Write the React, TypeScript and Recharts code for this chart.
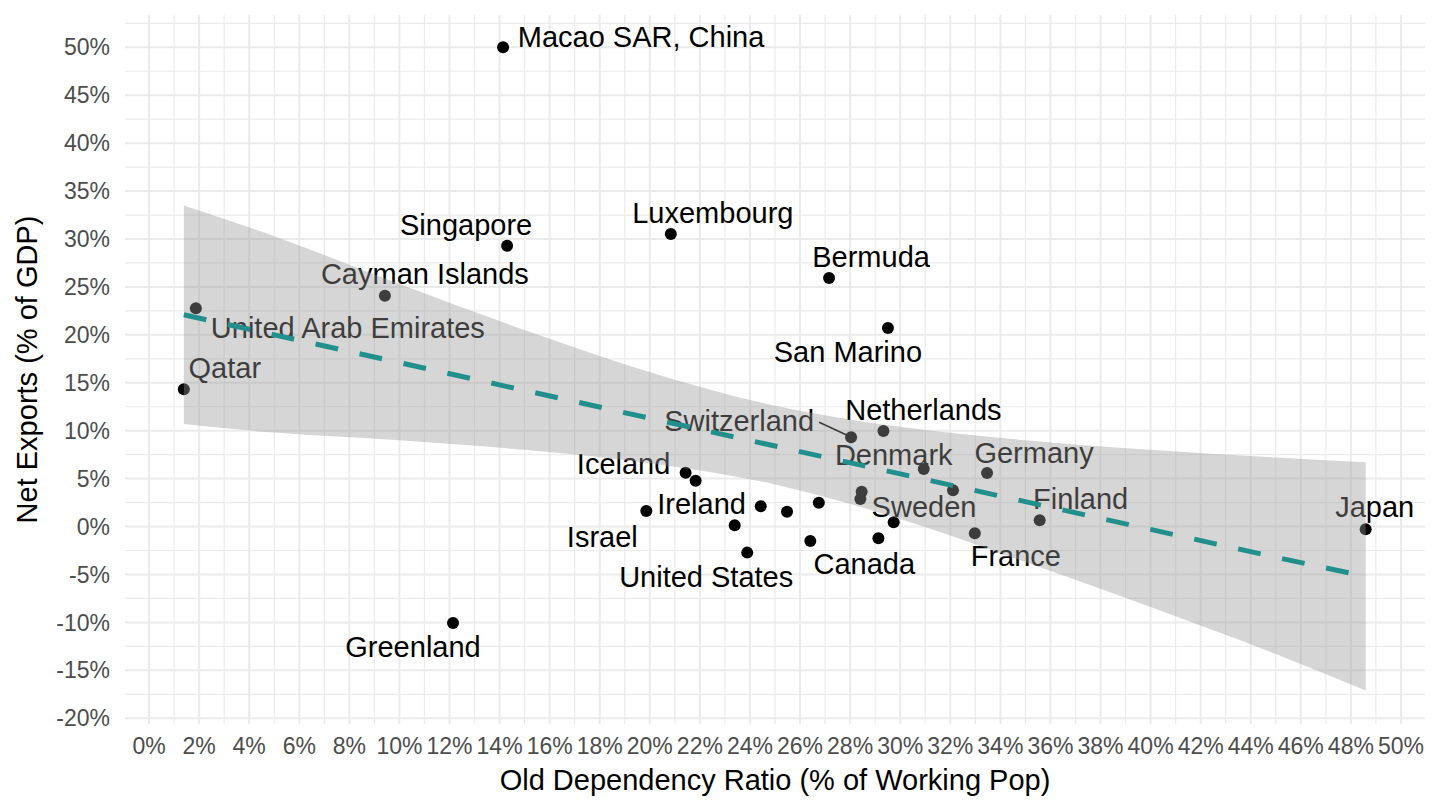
import { ComposedChart, Scatter, Area, Line, XAxis, YAxis, CartesianGrid } from 'recharts'

// one entry per country, null where the chart shows no label
const countries: (string | null)[] = [
  'Macao SAR, China', 'Singapore', 'Luxembourg', 'Bermuda', 'San Marino',
  'Cayman Islands', 'United Arab Emirates', 'Qatar', 'Switzerland', 'Netherlands',
  'Denmark', 'Germany', 'Sweden', 'Iceland', 'Ireland',
  null, null, 'Finland', 'Japan', 'France',
  null, null, 'Canada', null, null,
  null, null, 'United States', 'Israel', 'Greenland',
]
const oldDependency = [
  14.14, 14.3, 20.84, 27.16, 29.51,
  9.42, 1.87, 1.39, 28.04, 29.33,
  30.94, 33.47, 32.11, 21.43, 21.83,
  28.46, 28.41, 35.57, 48.59, 32.98,
  29.74, 29.13, 26.41, 26.75, 25.48,
  24.43, 23.39, 23.89, 19.86, 12.14,
]
const netExports = [
  50.0, 29.3, 30.52, 25.93, 20.72,
  24.09, 22.77, 14.32, 9.32, 9.97,
  6.01, 5.59, 3.79, 5.62, 4.79,
  3.64, 2.88, 0.66, -0.28, -0.7,
  0.45, -1.22, -1.5, 2.49, 1.55,
  2.12, 0.14, -2.72, 1.63, -10.06,
]

// linear fit and its confidence band
const fitX = [1.39, 5, 10, 15, 20, 25, 30, 35, 40, 45, 48.59]
const fitLower = [10.7, 9.8, 9.0, 8.0, 6.6, 4.4, 0.8, -3.7, -8.4, -13.3, -17.1]
const fitUpper = [33.5, 30.3, 25.3, 20.5, 16.1, 12.6, 10.4, 9.0, 8.0, 7.2, 6.7]
const fitValue = [22.1, 20.0, 17.1, 14.2, 11.3, 8.4, 5.5, 2.6, -0.3, -3.2, -5.2]

const xTicks = [0, 2, 4, 6, 8, 10, 12, 14, 16, 18, 20, 22, 24, 26, 28, 30, 32, 34, 36, 38, 40, 42, 44, 46, 48, 50]
const yTicks = [-20, -15, -10, -5, 0, 5, 10, 15, 20, 25, 30, 35, 40, 45, 50]
const xMinor = [1, 3, 5, 7, 9, 11, 13, 15, 17, 19, 21, 23, 25, 27, 29, 31, 33, 35, 37, 39, 41, 43, 45, 47, 49]
const yMinor = [-17.5, -12.5, -7.5, -2.5, 2.5, 7.5, 12.5, 17.5, 22.5, 27.5, 32.5, 37.5, 42.5, 47.5, 52.5]

const points = oldDependency.map((x, i) => ({ x, y: netExports[i], name: countries[i] }))
const band = fitX.map((x, i) => ({ x, lo: fitLower[i], hi: fitUpper[i], fit: fitValue[i] }))

// where each repelled label sits relative to its point (px)
const labelOffset: Record<string, [number, number]> = {
  'Macao SAR, China': [138, -10],
  Singapore: [-41, -21],
  Luxembourg: [42, -21],
  Bermuda: [42, -21],
  'San Marino': [-40, 24],
  'Cayman Islands': [40, -22],
  'United Arab Emirates': [152, 20],
  Qatar: [41, -21],
  Switzerland: [-112, -16],
  Netherlands: [40, -21],
  Denmark: [-30, -14],
  Germany: [47, -20],
  Sweden: [-29, 17],
  Iceland: [-62, -9],
  Ireland: [6, 23],
  Finland: [41, -21],
  Japan: [9, -22],
  France: [41, 23],
  Canada: [54, 23],
  'United States': [-41, 24],
  Israel: [-44, 26],
  Greenland: [-40, 24],
}
const segments: Record<string, [number, number, number, number]> = {
  Switzerland: [-32, -15, -4, -2],
}

const LABEL_FONT = 29
const TICK_FONT = 23

const renderPoint = (props: any) => {
  const { cx, cy, payload } = props
  const name = payload.name
  const off = name ? labelOffset[name] : null
  const seg = name ? segments[name] : null
  return (
    <g>
      <circle cx={cx} cy={cy} r={6} fill="#000" />
      {seg && (
        <line x1={cx + seg[0]} y1={cy + seg[1]} x2={cx + seg[2]} y2={cy + seg[3]} stroke="#000" strokeWidth={1.6} />
      )}
      {off && (
        <text x={cx + off[0]} y={cy + off[1]} textAnchor="middle" dominantBaseline="central" fontSize={LABEL_FONT} fill="#000">
          {name}
        </text>
      )}
    </g>
  )
}

function App() {
  return (
    <div
      style={{
        position: 'absolute',
        left: 0,
        top: 0,
        width: 1440,
        height: 810,
        background: '#fff',
        fontFamily: '"Liberation Sans", Arial, Helvetica, sans-serif',
      }}
    >
      <ComposedChart width={1440} height={810} data={band} margin={{ top: 15, right: 15, bottom: 0, left: 0 }}>
        <CartesianGrid stroke="#EBEBEB" strokeWidth={1.2} horizontalValues={yMinor} verticalValues={xMinor} />
        <CartesianGrid stroke="#EBEBEB" strokeWidth={2} horizontalValues={yTicks} verticalValues={xTicks} />
        <XAxis
          type="number"
          dataKey="x"
          domain={[-0.96, 50.96]}
          allowDataOverflow
          ticks={xTicks}
          interval={0}
          tickFormatter={(v) => `${v}%`}
          axisLine={false}
          tickLine={false}
          tickSize={0}
          tickMargin={14}
          height={86}
          tick={{ fill: '#4D4D4D', fontSize: TICK_FONT }}
          label={{
            value: 'Old Dependency Ratio (% of Working Pop)',
            position: 'insideBottom',
            offset: 20,
            fill: '#000',
            fontSize: LABEL_FONT,
          }}
        />
        <YAxis
          type="number"
          dataKey="y"
          domain={[-20.6, 53.37]}
          allowDataOverflow
          ticks={yTicks}
          interval={0}
          tickFormatter={(v) => `${v}%`}
          axisLine={false}
          tickLine={false}
          tickSize={0}
          tickMargin={15}
          width={125}
          tick={{ fill: '#4D4D4D', fontSize: TICK_FONT }}
          label={{
            value: 'Net Exports (% of GDP)',
            angle: -90,
            position: 'insideLeft',
            offset: 27,
            fill: '#000',
            fontSize: LABEL_FONT,
            style: { textAnchor: 'middle' },
          }}
        />
        <Scatter data={points} shape={renderPoint} isAnimationActive={false} zIndex={300} />
        <Area
          type="monotone"
          dataKey={(d: any) => [d.lo, d.hi]}
          stroke="none"
          fill="#999999"
          fillOpacity={0.4}
          dot={false}
          activeDot={false}
          isAnimationActive={false}
          zIndex={700}
        />
        <Line
          type="linear"
          dataKey="fit"
          stroke="#21908C"
          strokeWidth={5}
          strokeDasharray="23 22"
          dot={false}
          activeDot={false}
          isAnimationActive={false}
          zIndex={800}
        />
      </ComposedChart>
    </div>
  )
}

export default App
